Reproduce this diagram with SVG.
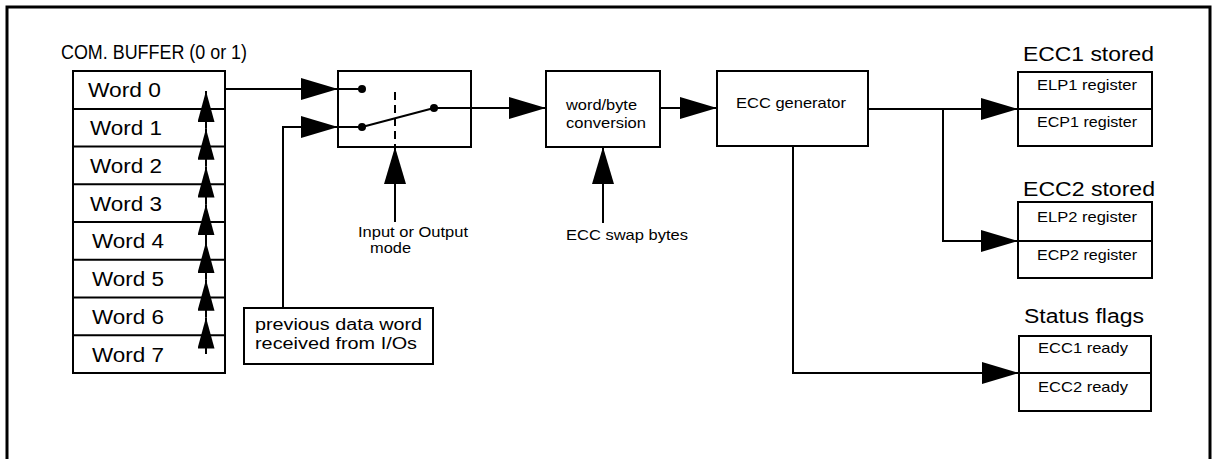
<svg xmlns="http://www.w3.org/2000/svg" width="1218" height="459" viewBox="0 0 1218 459">
<style>
.box{fill:#fff;stroke:#000;stroke-width:2}
.ln{fill:none;stroke:#000;stroke-width:2}
.dash{fill:none;stroke:#000;stroke-width:2;stroke-dasharray:8,5}
.big{marker-end:url(#ah)}
.sm{marker-end:url(#ahs)}
text{font-family:"Liberation Sans",Arial,Helvetica,sans-serif;fill:#000}
.t20{font-size:20px}
.t19{font-size:20px}
.t16{font-size:16px}
.t15{font-size:15px}
</style>
<defs>
<marker id="ah" markerUnits="userSpaceOnUse" viewBox="0 0 37 22" refX="37" refY="11" markerWidth="37" markerHeight="22" orient="auto"><path d="M0,0 L37,11 L0,22 z" fill="#000"/></marker>
<marker id="ahs" markerUnits="userSpaceOnUse" viewBox="0 0 31 17" refX="31" refY="8.5" markerWidth="31" markerHeight="17" orient="auto"><path d="M0,0 L31,8.5 L0,17 z" fill="#000"/></marker>
</defs>
<rect width="1218" height="459" fill="#fff"/>
<path d="M7,459 V7 H1210 V459" fill="none" stroke="#000" stroke-width="3"/>

<g id="buffer">
<text class="t20" x="61" y="59" textLength="186" lengthAdjust="spacingAndGlyphs">COM. BUFFER (0 or 1)</text>
<rect class="box" x="73" y="71" width="152" height="302"/>
<path class="ln" d="M73,109 H225 M73,146.5 H225 M73,184.25 H225 M73,222 H225 M73,259.75 H225 M73,297.5 H225 M73,335.25 H225"/>
<text class="t19" x="88" y="97" textLength="73" lengthAdjust="spacingAndGlyphs">Word 0</text>
<text class="t19" x="90" y="135" textLength="72" lengthAdjust="spacingAndGlyphs">Word 1</text>
<text class="t19" x="90" y="172.5" textLength="72" lengthAdjust="spacingAndGlyphs">Word 2</text>
<text class="t19" x="90" y="210.5" textLength="72" lengthAdjust="spacingAndGlyphs">Word 3</text>
<text class="t19" x="92" y="248" textLength="72" lengthAdjust="spacingAndGlyphs">Word 4</text>
<text class="t19" x="92" y="286" textLength="72" lengthAdjust="spacingAndGlyphs">Word 5</text>
<text class="t19" x="92" y="323.5" textLength="72" lengthAdjust="spacingAndGlyphs">Word 6</text>
<text class="t19" x="92" y="361.5" textLength="72" lengthAdjust="spacingAndGlyphs">Word 7</text>
</g>

<g id="switch">
<rect class="box" x="338" y="71" width="133" height="76"/>
<path class="ln" d="M338,89 H362 M338,127 H362 M362,127 L434,108"/>
<path class="dash" d="M395,92 V147"/>
<circle cx="362" cy="89" r="4"/>
<circle cx="362" cy="127" r="4"/>
<circle cx="434" cy="108" r="4"/>
</g>

<g id="mode-label">
<text class="t15" x="358" y="237" textLength="110" lengthAdjust="spacingAndGlyphs">Input or Output</text>
<text class="t15" x="370" y="253" textLength="41" lengthAdjust="spacingAndGlyphs">mode</text>
</g>

<g id="prev-word">
<rect class="box" x="244" y="308" width="189" height="56"/>
<text class="t16" x="255" y="330" textLength="167" lengthAdjust="spacingAndGlyphs">previous data word</text>
<text class="t16" x="255" y="349" textLength="162" lengthAdjust="spacingAndGlyphs">received from I/Os</text>
</g>

<g id="wordbyte">
<rect class="box" x="546" y="71" width="114" height="76"/>
<text class="t15" x="566" y="110" textLength="71" lengthAdjust="spacingAndGlyphs">word/byte</text>
<text class="t15" x="566" y="128" textLength="80" lengthAdjust="spacingAndGlyphs">conversion</text>
</g>

<g id="swap-label">
<text class="t15" x="566" y="240" textLength="122" lengthAdjust="spacingAndGlyphs">ECC swap bytes</text>
</g>

<g id="eccgen">
<rect class="box" x="717" y="71" width="151" height="75"/>
<text class="t15" x="736" y="108" textLength="110" lengthAdjust="spacingAndGlyphs">ECC generator</text>
</g>

<g id="ecc1">
<text class="t20" x="1023" y="61" textLength="131" lengthAdjust="spacingAndGlyphs">ECC1 stored</text>
<rect class="box" x="1018" y="72" width="134" height="74"/>
<path class="ln" d="M1018,109 H1152"/>
<text class="t15" x="1037" y="90" textLength="100" lengthAdjust="spacingAndGlyphs">ELP1 register</text>
<text class="t15" x="1037" y="127" textLength="100" lengthAdjust="spacingAndGlyphs">ECP1 register</text>
</g>

<g id="ecc2">
<text class="t20" x="1023" y="196" textLength="132" lengthAdjust="spacingAndGlyphs">ECC2 stored</text>
<rect class="box" x="1018" y="202" width="134" height="76"/>
<path class="ln" d="M1018,241 H1152"/>
<text class="t15" x="1037" y="222" textLength="100" lengthAdjust="spacingAndGlyphs">ELP2 register</text>
<text class="t15" x="1037" y="260" textLength="100" lengthAdjust="spacingAndGlyphs">ECP2 register</text>
</g>

<g id="status">
<text class="t20" x="1024" y="323" textLength="120" lengthAdjust="spacingAndGlyphs">Status flags</text>
<rect class="box" x="1019" y="336" width="132" height="75"/>
<path class="ln" d="M1019,373 H1151"/>
<text class="t15" x="1038" y="353" textLength="90" lengthAdjust="spacingAndGlyphs">ECC1 ready</text>
<text class="t15" x="1038" y="392" textLength="90" lengthAdjust="spacingAndGlyphs">ECC2 ready</text>
</g>

<g id="connectors">
<path class="ln sm" d="M206,354 V317.5"/>
<path class="ln sm" d="M206,317.5 V279.75"/>
<path class="ln sm" d="M206,279.75 V242"/>
<path class="ln sm" d="M206,242 V204.25"/>
<path class="ln sm" d="M206,204.25 V166.5"/>
<path class="ln sm" d="M206,166.5 V128.75"/>
<path class="ln sm" d="M206,128.75 V91"/>
<path class="ln big" d="M225,89 H338"/>
<path class="ln big" d="M283,308 V127 H338"/>
<path class="ln big" d="M434,108 H546"/>
<path class="ln big" d="M395,222 V147"/>
<path class="ln big" d="M603,223 V147"/>
<path class="ln big" d="M660,108 H717"/>
<path class="ln big" d="M868,109 H1018"/>
<path class="ln big" d="M943,109 V241 H1018"/>
<path class="ln big" d="M793,146 V373 H1019"/>
</g>
</svg>
